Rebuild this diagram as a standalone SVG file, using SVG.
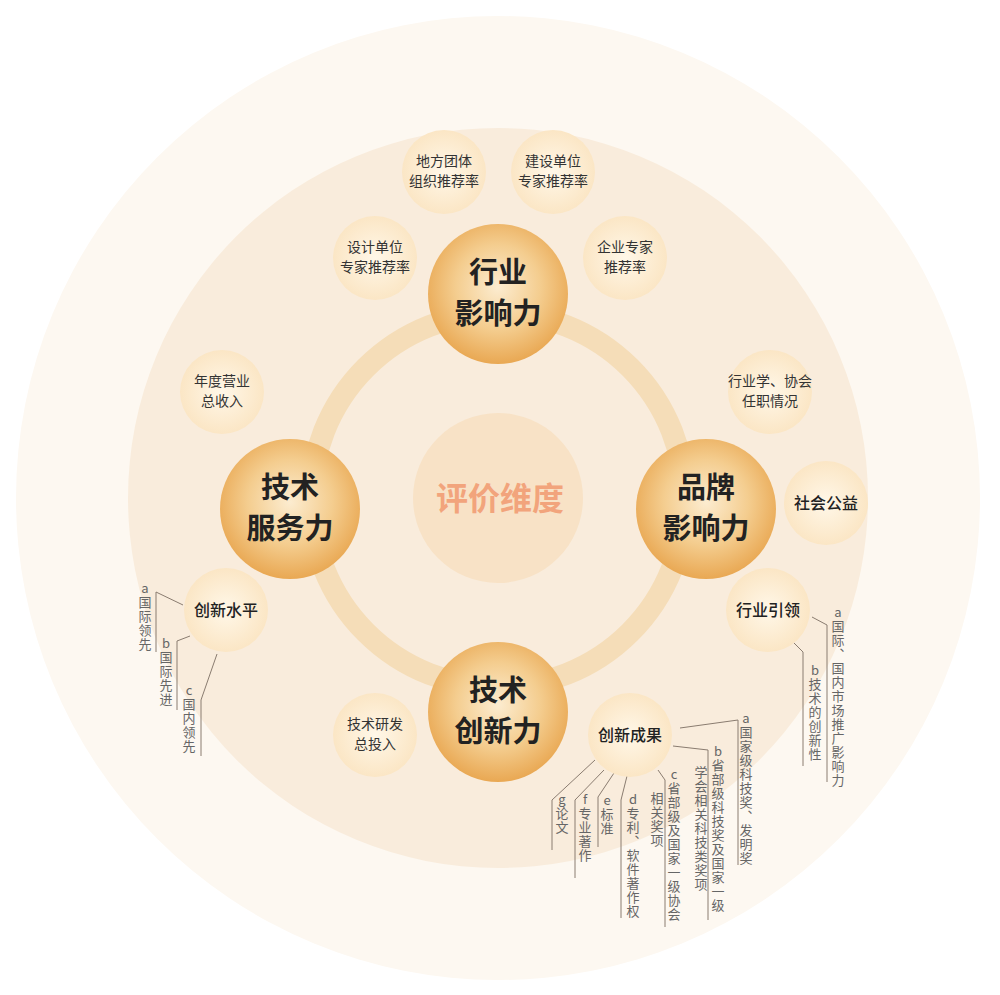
<svg xmlns="http://www.w3.org/2000/svg" width="1000" height="995" viewBox="0 0 1000 995">
<defs>
<radialGradient id="gm" cx="50%" cy="45%" r="55%"><stop offset="0" stop-color="#fcecd0"/><stop offset="0.55" stop-color="#f4cd8f"/><stop offset="1" stop-color="#e9a853"/></radialGradient>
<radialGradient id="gs" cx="50%" cy="50%" r="50%"><stop offset="0" stop-color="#fff7e8"/><stop offset="1" stop-color="#fbe6c5"/></radialGradient>
<style>
.main{font-family:"Noto Sans CJK SC",sans-serif;font-weight:700;font-size:29px;fill:#222;text-anchor:middle}
.sm{font-family:"Noto Sans CJK SC",sans-serif;font-size:14px;fill:#333;text-anchor:middle}
.smb{font-family:"Noto Sans CJK SC",sans-serif;font-size:16px;fill:#222;text-anchor:middle;font-weight:500}
.v{font-family:"Noto Sans CJK SC",sans-serif;font-size:13px;fill:#666;writing-mode:vertical-rl;text-orientation:upright;letter-spacing:1px}
.ln{fill:none;stroke:#8a7c70;stroke-width:1}
</style>
</defs>
<rect width="1000" height="995" fill="#fff"/>
<circle cx="498" cy="498" r="482" fill="#fdf8f1"/>
<circle cx="498" cy="498" r="370" fill="#f9ecdc"/>
<circle cx="498" cy="500" r="187" fill="none" stroke="#f5ddb8" stroke-width="22"/>
<circle cx="498" cy="498" r="85" fill="#f8e2c6"/>
<text x="500" y="510" style="font-family:'Noto Sans CJK SC',sans-serif;font-weight:700;font-size:32px;fill:#f2a47c;text-anchor:middle">评价维度</text>
<g id="connectors">
<polyline class="ln" points="183,605 156,592 156,652"/>
<polyline class="ln" points="190,636 177,641 177,710"/>
<polyline class="ln" points="217,654 201,700 201,756"/>
<polyline class="ln" points="812,617 827,625 827,782"/>
<polyline class="ln" points="792,641 803,652 803,766"/>
<polyline class="ln" points="680,728 738,720 738,865"/>
<polyline class="ln" points="673,746 708,750 708,920"/>
<polyline class="ln" points="658,770 665,780 665,927"/>
<polyline class="ln" points="627,776 621,800 621,918"/>
<polyline class="ln" points="614,773 598,797 598,847"/>
<polyline class="ln" points="604,770 575,800 575,878"/>
<polyline class="ln" points="595,760 552,800 552,850"/>
</g>
<g id="n-hyyxl"><circle cx="498" cy="294" r="70" fill="url(#gm)"/><text class="main" x="498" y="283">行业</text><text class="main" x="498" y="324">影响力</text></g>
<g id="n-jsfwl"><circle cx="290" cy="509" r="70" fill="url(#gm)"/><text class="main" x="290" y="498">技术</text><text class="main" x="290" y="539">服务力</text></g>
<g id="n-ppyxl"><circle cx="706" cy="509" r="70" fill="url(#gm)"/><text class="main" x="706" y="498">品牌</text><text class="main" x="706" y="539">影响力</text></g>
<g id="n-jscxl"><circle cx="498" cy="712" r="70" fill="url(#gm)"/><text class="main" x="498" y="701">技术</text><text class="main" x="498" y="742">创新力</text></g>
<g id="n1"><circle cx="444" cy="172" r="42" fill="url(#gs)"/><text class="sm" x="444" y="166">地方团体</text><text class="sm" x="444" y="186">组织推荐率</text></g>
<g id="n2"><circle cx="553" cy="172" r="42" fill="url(#gs)"/><text class="sm" x="553" y="166">建设单位</text><text class="sm" x="553" y="186">专家推荐率</text></g>
<g id="n3"><circle cx="375" cy="258" r="42" fill="url(#gs)"/><text class="sm" x="375" y="252">设计单位</text><text class="sm" x="375" y="272">专家推荐率</text></g>
<g id="n4"><circle cx="625" cy="258" r="42" fill="url(#gs)"/><text class="sm" x="625" y="252">企业专家</text><text class="sm" x="625" y="272">推荐率</text></g>
<g id="n5"><circle cx="222" cy="392" r="42" fill="url(#gs)"/><text class="sm" x="222" y="386">年度营业</text><text class="sm" x="222" y="406">总收入</text></g>
<g id="n6"><circle cx="770" cy="392" r="42" fill="url(#gs)"/><text class="sm" x="770" y="386">行业学、协会</text><text class="sm" x="770" y="406">任职情况</text></g>
<g id="n7"><circle cx="826" cy="503" r="42" fill="url(#gs)"/><text class="smb" x="826" y="509">社会公益</text></g>
<g id="n8"><circle cx="226" cy="610" r="42" fill="url(#gs)"/><text class="smb" x="226" y="616">创新水平</text></g>
<g id="n9"><circle cx="768" cy="610" r="42" fill="url(#gs)"/><text class="smb" x="768" y="616">行业引领</text></g>
<g id="n10"><circle cx="375" cy="735" r="42" fill="url(#gs)"/><text class="sm" x="375" y="729">技术研发</text><text class="sm" x="375" y="749">总投入</text></g>
<g id="n11"><circle cx="630" cy="735" r="42" fill="url(#gs)"/><text class="smb" x="630" y="741">创新成果</text></g>
<g id="labels">
<text class="v" x="145" y="582">a国际领先</text>
<text class="v" x="166" y="637">b国际先进</text>
<text class="v" x="189" y="684">c国内领先</text>
<text class="v" x="838" y="606">a国际、国内市场推广影响力</text>
<text class="v" x="815" y="664">b技术的创新性</text>
<text class="v" x="746" y="712">a国家级科技奖、发明奖</text>
<text class="v" x="718" y="745">b省部级科技奖及国家一级</text>
<text class="v" x="701" y="766">学会相关科技类奖项</text>
<text class="v" x="674" y="768">c省部级及国家一级协会</text>
<text class="v" x="657" y="792">相关奖项</text>
<text class="v" x="633" y="793">d专利、软件著作权</text>
<text class="v" x="607" y="794">e标准</text>
<text class="v" x="585" y="793">f专业著作</text>
<text class="v" x="562" y="793">g论文</text>
</g>
</svg>
